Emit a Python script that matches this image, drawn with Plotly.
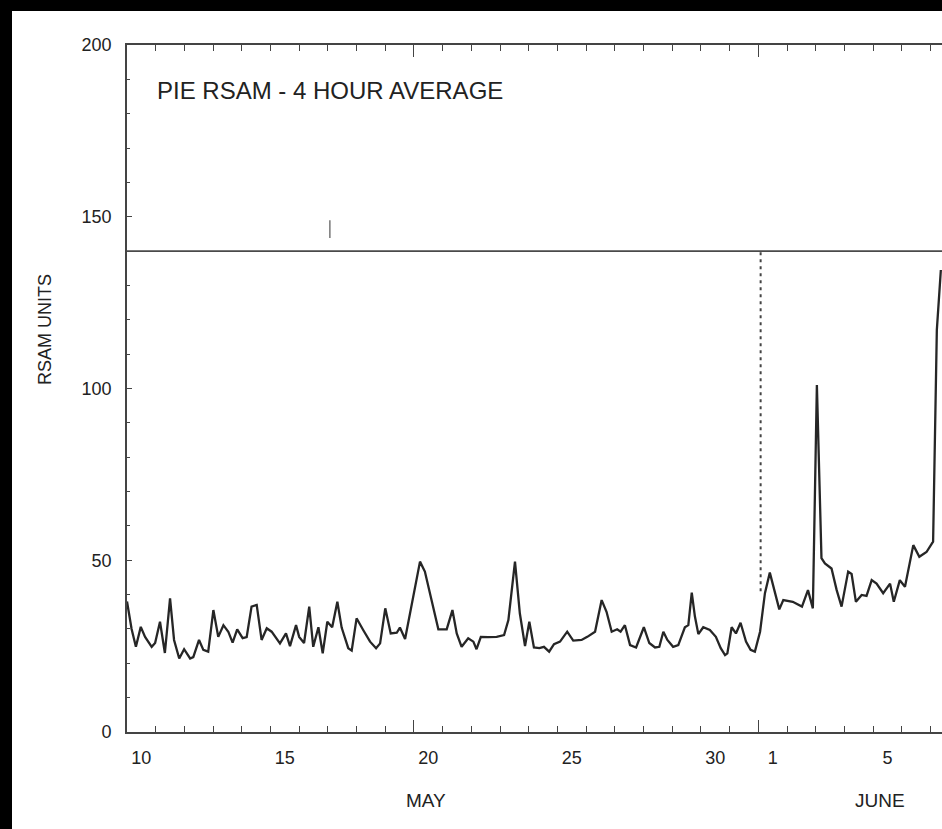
import plotly.graph_objects as go

# ---- data (day of May; June n = 31 + n) ----
day = [10.00, 10.16, 10.31, 10.48, 10.63, 10.86, 10.98, 11.15, 11.32, 11.50, 11.64, 11.82, 11.99,
       12.20, 12.31, 12.51, 12.66, 12.83, 13.01, 13.18, 13.36, 13.53, 13.68, 13.84, 14.03, 14.17,
       14.34, 14.52, 14.69, 14.87, 15.04, 15.33, 15.54, 15.68, 15.89, 16.00, 16.17, 16.35, 16.49,
       16.67, 16.82, 16.98, 17.15, 17.33, 17.48, 17.71, 17.83, 18.00, 18.23, 18.47, 18.68, 18.82,
       19.00, 19.19, 19.40, 19.51, 19.69, 19.92, 20.21, 20.38, 20.62, 20.85, 21.14, 21.34, 21.49,
       21.66, 21.89, 22.07, 22.18, 22.33, 22.59, 22.88, 23.14, 23.29, 23.52, 23.69, 23.87, 24.02,
       24.18, 24.37, 24.53, 24.71, 24.88, 25.09, 25.34, 25.55, 25.84, 26.04, 26.31, 26.54, 26.71,
       26.89, 27.08, 27.20, 27.35, 27.53, 27.74, 28.01, 28.20, 28.40, 28.55, 28.69, 28.83, 29.03,
       29.21, 29.44, 29.56, 29.68, 29.79, 29.91, 30.08, 30.31, 30.52, 30.69, 30.84, 30.92, 31.07,
       31.22, 31.38, 31.57, 31.73, 31.88, 32.06, 32.23, 32.40, 32.54, 32.73, 32.87, 33.20, 33.52,
       33.73, 33.90, 34.04, 34.20, 34.32, 34.55, 34.73, 34.90, 35.13, 35.25, 35.40, 35.60, 35.77,
       35.95, 36.12, 36.35, 36.59, 36.72, 36.93, 37.11, 37.40, 37.61, 37.86, 38.09, 38.22, 38.36]
rsam = [38, 30, 24.8, 30.6, 27.7, 24.8, 25.9, 32.1, 23, 38.9, 26.8, 21.4, 24.1,
        21.4, 21.8, 26.8, 23.9, 23.4, 35.5, 27.7, 31.1, 29.2, 26, 29.9, 27.3, 27.6,
        36.5, 37, 26.8, 30.2, 29.2, 25.8, 28.7, 25, 31.1, 27.7, 25.9, 36.5, 24.8,
        30.5, 22.9, 32.1, 30.5, 37.9, 30.4, 24.4, 23.7, 33.1, 29.7, 26.3, 24.4, 25.8,
        36, 28.7, 28.9, 30.4, 27.1, 37.5, 49.6, 46.7, 38.4, 29.9, 29.9, 35.5, 28.7,
        24.8, 27.3, 26.3, 24.1, 27.7, 27.6, 27.7, 28.2, 32.6, 49.6, 34.5, 25, 32.1,
        24.6, 24.4, 24.8, 23.4, 25.6, 26.3, 29.2, 26.6, 26.8, 27.7, 29.2, 38.4, 35,
        29.2, 29.9, 29.2, 31.1, 25.3, 24.6, 30.5, 25.9, 24.6, 24.8, 29.2, 26.8, 24.8,
        25.3, 30.5, 31.1, 40.6, 33.6, 28.5, 30.5, 29.7, 27.7, 24.4, 22.4, 22.9, 30.5,
        28.7, 31.8, 26.3, 23.9, 23.4, 29.2, 40.4, 46.4, 41.8, 35.7, 38.4, 37.9, 36.5,
        41.3, 36, 101, 50.6, 49.1, 47.6, 41.3, 36.5, 46.7, 46, 37.9, 39.9, 39.6,
        44.2, 43.2, 40.4, 43.2, 37.9, 44.2, 42.3, 54.4, 51, 52.4, 55.4, 117, 134.5]

label_pos = [10.5, 15.5, 20.5, 25.5, 30.5, 32.5, 36.5]
label_txt = ["10", "15", "20", "25", "30", "1", "5"]
month_pos = [20.42, 36.24]
month_txt = ["MAY", "JUNE"]
major_ticks = [20, 32]
threshold = 140
june_line_day = 32.08
june_line_bottom = 41
event_day = 17.07
event_span = [143.8, 149]
x_range = [10, 38.40]
y_range = [0, 200]

FONT = "Liberation Sans, Arial, sans-serif"
INK = "#222222"
AX = "#444444"

fig = go.Figure()
fig.add_trace(go.Scatter(x=day, y=rsam, mode="lines",
                         line=dict(color="#262626", width=2.3), showlegend=False,
                         hoverinfo="skip"))
# dummy traces so the overlay axes are drawn
fig.add_trace(go.Scatter(x=[x_range[0]], y=[None], xaxis="x2", showlegend=False, hoverinfo="skip"))
fig.add_trace(go.Scatter(x=[x_range[0]], y=[None], xaxis="x3", showlegend=False, hoverinfo="skip"))
# small event mark
fig.add_trace(go.Scatter(x=[event_day, event_day], y=event_span, mode="lines",
                         line=dict(color="#555", width=1.2), showlegend=False, hoverinfo="skip"))

fig.add_hline(y=threshold, line=dict(color="#4a4a4a", width=1.8))
fig.add_shape(type="line", x0=june_line_day, x1=june_line_day, y0=june_line_bottom, y1=threshold,
              xref="x", yref="y", line=dict(color="#444", width=2, dash="3px,4px"))

# black scan border
fig.add_shape(type="rect", xref="paper", yref="paper", x0=-0.2, x1=1.1,
              y0=(732 - 11) / 687, y1=1.2, fillcolor="black", line_width=0, layer="above")
fig.add_shape(type="rect", xref="paper", yref="paper", x0=-0.2, x1=(12 - 127) / 815,
              y0=-0.2, y1=1.2, fillcolor="black", line_width=0, layer="above")

fig.update_layout(
    width=942, height=829,
    margin=dict(l=127, r=0, t=45, b=97),
    paper_bgcolor="white", plot_bgcolor="white",
    font=dict(family=FONT, color=INK),
    xaxis=dict(range=x_range, tick0=10, dtick=1, ticks="inside", ticklen=6,
               tickwidth=1.3, tickcolor=AX, showticklabels=False, showgrid=False,
               zeroline=False, showline=True, linecolor=AX, linewidth=1.7, mirror="ticks"),
    xaxis2=dict(overlaying="x", matches="x", anchor="y", side="bottom",
                tickmode="array", tickvals=label_pos, ticktext=label_txt, ticks="",
                showline=False, showgrid=False, zeroline=False, ticklabelstandoff=13,
                tickfont=dict(size=18, color=INK, family=FONT)),
    xaxis3=dict(overlaying="x", matches="x", anchor="y", side="bottom",
                tickmode="array", tickvals=major_ticks, ticks="inside", ticklen=12,
                tickwidth=1.3, tickcolor=AX, showticklabels=False, mirror="ticks",
                showline=False, showgrid=False, zeroline=False),
    yaxis=dict(range=y_range, tick0=0, dtick=50, ticks="inside", ticklen=5, tickwidth=1.2,
               tickcolor=AX, showgrid=False, zeroline=False, showline=True, linecolor=AX,
               linewidth=1.7, ticklabelstandoff=10,
               tickfont=dict(size=18, color=INK, family=FONT),
               minor=dict(dtick=10, ticks="inside", ticklen=3, tickcolor=AX, tickwidth=1)),
    annotations=[
        dict(text="PIE RSAM - 4 HOUR AVERAGE", xref="paper", yref="paper",
             x=(155 - 127) / 815, y=(732 - 90) / 687, xanchor="left", yanchor="middle",
             showarrow=False, font=dict(size=24, color=INK, family=FONT)),
        dict(text="RSAM UNITS", xref="paper", yref="paper", x=(45 - 127) / 815,
             y=(732 - 330) / 687, textangle=-90, xanchor="center", yanchor="middle",
             showarrow=False, font=dict(size=18, color=INK, family=FONT)),
    ] + [dict(text=t, xref="x", yref="paper", x=p, y=(732 - 800) / 687,
              xanchor="center", yanchor="middle", showarrow=False,
              font=dict(size=19, color=INK, family=FONT))
         for p, t in zip(month_pos, month_txt)],
)

fig.write_html("out.html")
